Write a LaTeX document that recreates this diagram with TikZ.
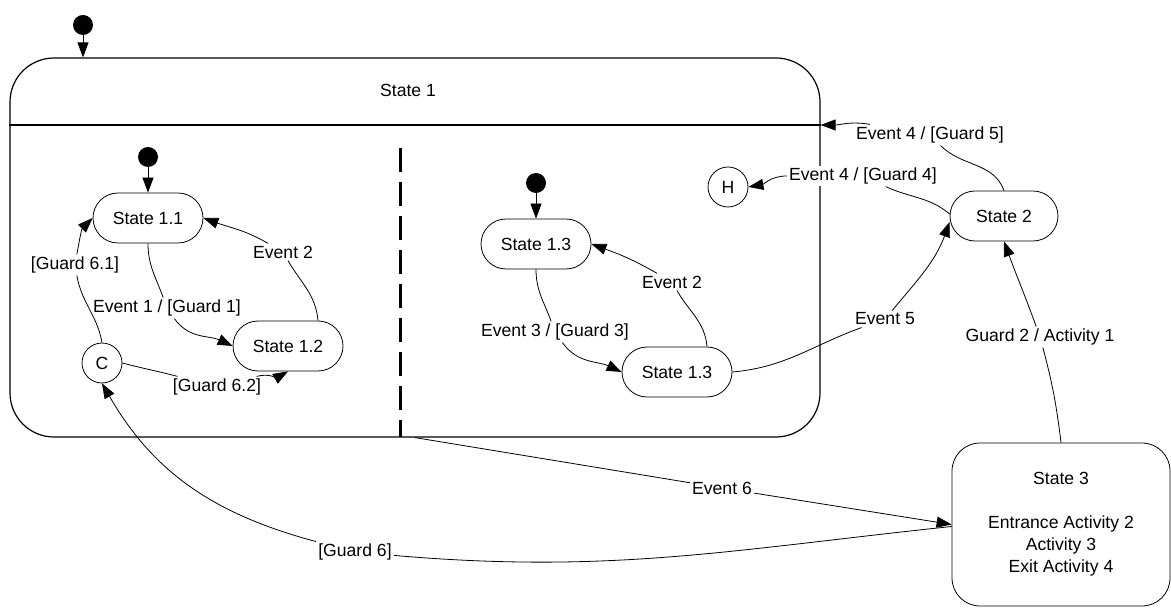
\documentclass[tikz,border=0pt]{standalone}
\usepackage{fontspec}
\setmainfont{Liberation Sans}
\usetikzlibrary{arrows.meta,calc}

\begin{document}
\begin{tikzpicture}[x=0.5pt,y=0.5pt,
  font=\fontsize{8.8}{11}\selectfont,
  substate/.style={draw, thin, rounded corners=12.5pt, minimum width=55pt, minimum height=25pt, inner sep=0pt},
  pseudo/.style={draw, thin, circle, minimum size=20pt, inner sep=0pt},
  initdot/.style={circle, fill=black, minimum size=10pt, inner sep=0pt},
  lbl/.style={fill=white, inner sep=1pt},
  trans/.style={thin, -{Triangle[length=7.5pt,width=5.5pt]}}]

  \useasboundingbox (0,0) rectangle (1171,-608);

  % composite state with its two regions
  \node[draw, line width=0.6pt, rounded corners=22pt, minimum width=405pt, minimum height=189.5pt] (s1) at (415,-247.5) {};
  \node (s1name) at (408,-90) {State 1};
  \draw[line width=1pt] (s1.west |- 0,-125) -- (s1.east |- 0,-125);
  \draw[line width=1.5pt, dash pattern=on 12pt off 5pt] (400,-148) -- (400,-437);

  \node[substate] (s11) at (148,-218) {State 1.1};
  \node[substate] (s12) at (288,-346) {State 1.2};
  \node[pseudo] (c) at (102,-363) {C};
  \node[substate] (s13a) at (536,-244) {State 1.3};
  \node[substate] (s13b) at (677,-372) {State 1.3};
  \node[pseudo] (h) at (728,-187) {H};
  \node[substate, minimum width=54pt] (s2) at (1004,-216) {State 2};
  \node[draw, thin, rounded corners=14pt, minimum width=109pt, minimum height=81.5pt, align=center] (s3) at (1061,-524.5)
    {State 3\\[11pt]Entrance Activity 2\\Activity 3\\Exit Activity 4};

  \node[initdot] (i0) at (83,-25) {};
  \node[initdot] (i1) at (148,-157) {};
  \node[initdot] (i2) at (536,-183) {};
  \draw[trans] (i0) -- (i0 |- s1.north);
  \draw[trans] (i1) -- (s11);
  \draw[trans] (i2) -- (s13a);

  % transition labels
  \node[lbl] (ev1) at (167,-308) {Event 1 / [Guard 1]};
  \node[lbl] (ev2a) at (283,-252) {Event 2};
  \node[lbl] (g61) at (75,-265) {[Guard 6.1]};
  \node[lbl] (g62) at (217,-387) {[Guard 6.2]};
  \node[lbl] (ev3) at (555,-332) {Event 3 / [Guard 3]};
  \node[lbl] (ev2b) at (672,-282) {Event 2};
  \node[lbl] (ev4h) at (863,-176) {Event 4 / [Guard 4]};
  \node[lbl] (ev4s) at (930,-135) {Event 4 / [Guard 5]};
  \node[lbl] (ev5) at (885,-319) {Event 5};
  \node[lbl] (g2) at (1040,-337) {Guard 2 / Activity 1};
  \node[lbl] (ev6) at (722,-488) {Event 6};
  \node[lbl] (g6) at (355,-552) {[Guard 6]};

  % transitions
  \draw[trans] (s11.south) to[out=-90,in=110] (ev1) to[out=-55,in=155] (s12.west);
  \draw[trans] ([xshift=15pt]s12.north) to[out=95,in=-60] (ev2a) to[out=150,in=-20] (s11.west -| s11.east);
  \draw[trans] (c.north) to[out=100,in=-80] (g61) to[out=80,in=225] (s11.west);
  \draw[trans] (c.east) to[out=-15,in=165] (g62) to[out=15,in=210] (s12.south);
  \draw[trans] (s13a.south) to[out=-90,in=110] (ev3) to[out=-55,in=155] (s13b.west);
  \draw[trans] ([xshift=15pt]s13b.north) to[out=95,in=-60] (ev2b) to[out=150,in=-20] (s13a.east);
  \draw[trans] (s13b.east) to[out=5,in=200] (ev5) to[out=50,in=-110] ([yshift=-3pt]s2.west);
  \draw[trans] ([yshift=1pt]s2.west) to[out=140,in=-25] (ev4h) to[out=180,in=10] (h.east);
  \draw[trans] (s2.north) to[out=110,in=-45] (ev4s) to[out=170,in=0] (s1.east |- 0,-125);
  \draw[trans] (s3.north) to[out=97,in=-75] (g2) to[out=110,in=-70] (s2.south);
  \draw[trans] (s1.south) -- (ev6) -- (s3.west);
  \draw[trans] ([yshift=-1pt]s3.west) to[out=186,in=-5] (g6) to[out=165,in=-60] (c.south);

\end{tikzpicture}
\end{document}
